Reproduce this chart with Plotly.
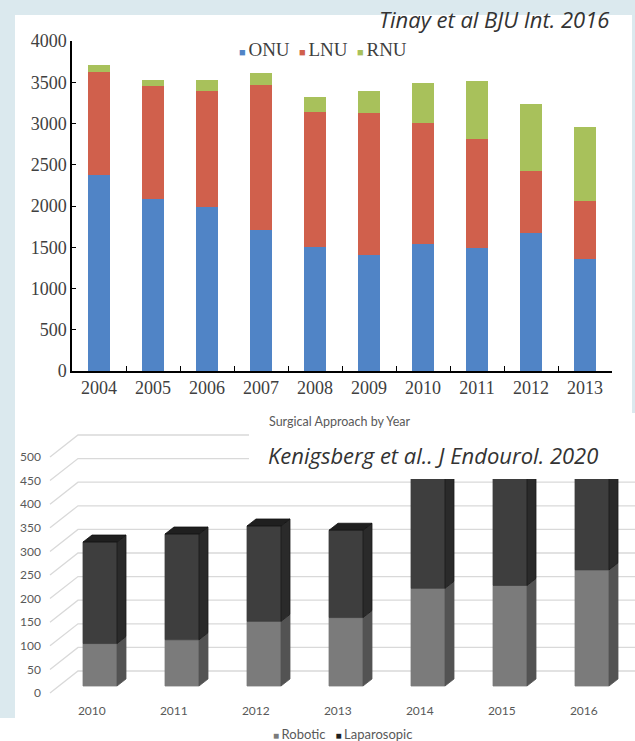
import plotly.graph_objects as go

# ---------------- data ----------------
years_top = ['2004', '2005', '2006', '2007', '2008', '2009', '2010', '2011', '2012', '2013']
onu = [2370, 2090, 1990, 1705, 1505, 1410, 1545, 1490, 1675, 1355]
lnu = [1255, 1370, 1410, 1760, 1635, 1720, 1460, 1325, 750, 710]
rnu = [80, 70, 130, 150, 180, 265, 480, 705, 810, 895]
y_ticks_top = [0, 500, 1000, 1500, 2000, 2500, 3000, 3500, 4000]

years_bot = ['2010', '2011', '2012', '2013', '2014', '2015', '2016']
robotic = [90, 98, 137, 145, 207, 213, 246]
laparoscopic = [215, 224, 202, 185, 255, 245, 215]
y_ticks_bot = [0, 50, 100, 150, 200, 250, 300, 350, 400, 450, 500]

# ---------------- layout helpers ----------------
W, H = 635, 741
def px(x):
    return x / W
def py(y):
    return 1 - y / H

C_ONU, C_LNU, C_RNU = '#5084c6', '#d0604c', '#a8c15b'
SERIF = 'Liberation Serif'
SANS = 'Lato'

fig = go.Figure()

# ---------------- top chart ----------------
fig.add_trace(go.Bar(x=years_top, y=onu, name='ONU', marker_color=C_ONU, showlegend=False))
fig.add_trace(go.Bar(x=years_top, y=lnu, name='LNU', marker_color=C_LNU, showlegend=False))
fig.add_trace(go.Bar(x=years_top, y=rnu, name='RNU', marker_color=C_RNU, showlegend=False))

# ---------------- bottom chart (pseudo 3D) ----------------
U = 0.472            # px per value unit
CAT = 82.0           # px per category
X0 = 100.0           # px of first bar centre
BAR_W = 34 / CAT
SIDE_DX = 9 / CAT
SIDE_DY = 7 / U
FACE_Z = 7 / U
GRID_XL = (50 - X0) / CAT
GRID_DX = 28 / CAT
GRID_DY = 22 / U
GRID_XR = (W - X0) / CAT

gx, gy = [], []
for v in y_ticks_bot:
    gx += [GRID_XL, GRID_XL + GRID_DX, GRID_XR, None]
    gy += [v, v + GRID_DY, v + GRID_DY, None]
fig.add_trace(go.Scatter(x=gx, y=gy, mode='lines', line=dict(color='#d9d9d9', width=1.3),
                         xaxis='x2', yaxis='y2', showlegend=False, hoverinfo='skip'))

def poly(xs, ys, color, name, line_color=None):
    fig.add_trace(go.Scatter(x=xs + [xs[0]], y=ys + [ys[0]], mode='lines', fill='toself',
                             fillcolor=color, line=dict(color=line_color or color, width=0.8),
                             xaxis='x2', yaxis='y2', showlegend=False, hoverinfo='skip', name=name))

for i, (r, l) in enumerate(zip(robotic, laparoscopic)):
    xl, xr = i - BAR_W / 2, i + BAR_W / 2
    b = FACE_Z
    t = b + r + l
    # robotic
    poly([xl, xr, xr, xl], [b, b, b + r, b + r], '#7b7b7b', 'Robotic')
    poly([xr, xr + SIDE_DX, xr + SIDE_DX, xr], [b, b + SIDE_DY, b + SIDE_DY + r, b + r], '#535353', 'Robotic')
    # laparoscopic
    poly([xl, xr, xr, xl], [b + r, b + r, t, t], '#3e3e3e', 'Laparosopic')
    poly([xr, xr + SIDE_DX, xr + SIDE_DX, xr], [b + r, b + r + SIDE_DY, t + SIDE_DY, t], '#2a2a2a', 'Laparosopic', '#1a1a1a')
    poly([xl, xr, xr + SIDE_DX, xl + SIDE_DX], [t, t, t + SIDE_DY, t + SIDE_DY], '#1f1f1f', 'Laparosopic', '#111111')

# ---------------- layout ----------------
shapes = [
    dict(type='rect', xref='paper', yref='paper', x0=px(15), x1=px(632), y0=py(413), y1=py(15),
         fillcolor='white', line=dict(width=0), layer='below'),
    dict(type='rect', xref='paper', yref='paper', x0=px(15), x1=1, y0=0, y1=py(413),
         fillcolor='white', line=dict(width=0), layer='below'),
    dict(type='rect', xref='paper', yref='paper', x0=0, x1=1, y0=0, y1=py(718),
         fillcolor='white', line=dict(width=0), layer='below'),
    # text box covering top of the bottom chart
    dict(type='rect', xref='paper', yref='paper', x0=px(249), x1=1, y0=py(479), y1=py(429),
         fillcolor='white', line=dict(width=0), layer='above'),
]

def sq(color, size=11):
    return '<span style="font-size:{}px;color:{}">■ </span>'.format(size, color)

annotations = [
    dict(text='<i>Tinay et al BJU Int. 2016</i>', x=px(611), y=py(19), xref='paper', yref='paper',
         xanchor='right', yanchor='middle', showarrow=False,
         font=dict(family='Open Sans', size=22, color='#333333')),
    dict(text=sq(C_ONU) + 'ONU&nbsp;&nbsp;' + sq(C_LNU) + 'LNU&nbsp;&nbsp;' + sq(C_RNU) + 'RNU',
         x=px(323), y=py(50), xref='paper', yref='paper', xanchor='center', yanchor='middle',
         showarrow=False, font=dict(family=SERIF, size=19, color='#404040')),
    dict(text='Surgical Approach by Year', x=px(340), y=py(421), xref='paper', yref='paper',
         xanchor='center', yanchor='middle', showarrow=False,
         font=dict(family=SANS, size=12.5, color='#595959')),
    dict(text='<i>Kenigsberg et al.. J Endourol. 2020</i>', x=px(600), y=py(455), xref='paper', yref='paper',
         xanchor='right', yanchor='middle', showarrow=False,
         font=dict(family='Open Sans', size=22, color='#333333')),
    dict(text=sq('#7b7b7b', 10) + 'Robotic&nbsp;&nbsp;&nbsp;' + sq('#1f1f1f', 10) + 'Laparosopic',
         x=px(343), y=py(734), xref='paper', yref='paper', xanchor='center', yanchor='middle',
         showarrow=False, font=dict(family=SANS, size=13, color='#595959')),
]

fig.update_layout(
    template='none',
    width=W, height=H, margin=dict(l=0, r=0, t=0, b=0, pad=0, autoexpand=False),
    paper_bgcolor='#dbe9ee', plot_bgcolor='rgba(0,0,0,0)',
    barmode='stack', bargap=0.61, showlegend=False, hovermode=False,
    shapes=shapes, annotations=annotations,
    xaxis=dict(domain=[px(72), px(612)], anchor='y', type='category', automargin=False,
               showline=True, linecolor='black', linewidth=1.5, mirror=False,
               ticks='inside', tickson='boundaries', ticklen=5, tickcolor='black',
               tickfont=dict(family=SERIF, size=18, color='#404040'), showgrid=False),
    yaxis=dict(domain=[py(371), py(41)], anchor='x', range=[0, 4000], tickvals=y_ticks_top,
               automargin=False, showline=True, linecolor='black', linewidth=1.5,
               ticks='inside', ticklen=4, tickcolor='black',
               tickfont=dict(family=SERIF, size=18, color='#404040'),
               showgrid=False, zeroline=False),
    xaxis2=dict(domain=[0, 1], anchor='free', position=py(702), range=[(0 - X0) / CAT, (W - X0) / CAT],
                tickvals=[i - 0.1 for i in range(len(years_bot))], ticktext=years_bot, automargin=False,
                showline=False, ticks='', showgrid=False, zeroline=False,
                tickfont=dict(family=SANS, size=12, color='#595959')),
    yaxis2=dict(domain=[0, 1], anchor='free', position=px(41), range=[(693 - H) / U, 693 / U],
                tickvals=y_ticks_bot, automargin=False, showline=False, ticks='', showgrid=False,
                zeroline=False, tickfont=dict(family=SANS, size=12, color='#595959')),
)

fig.write_html('out.html', config={'displayModeBar': False, 'responsive': False},
               post_script="document.body.style.margin='0';document.body.style.overflow='hidden';")
